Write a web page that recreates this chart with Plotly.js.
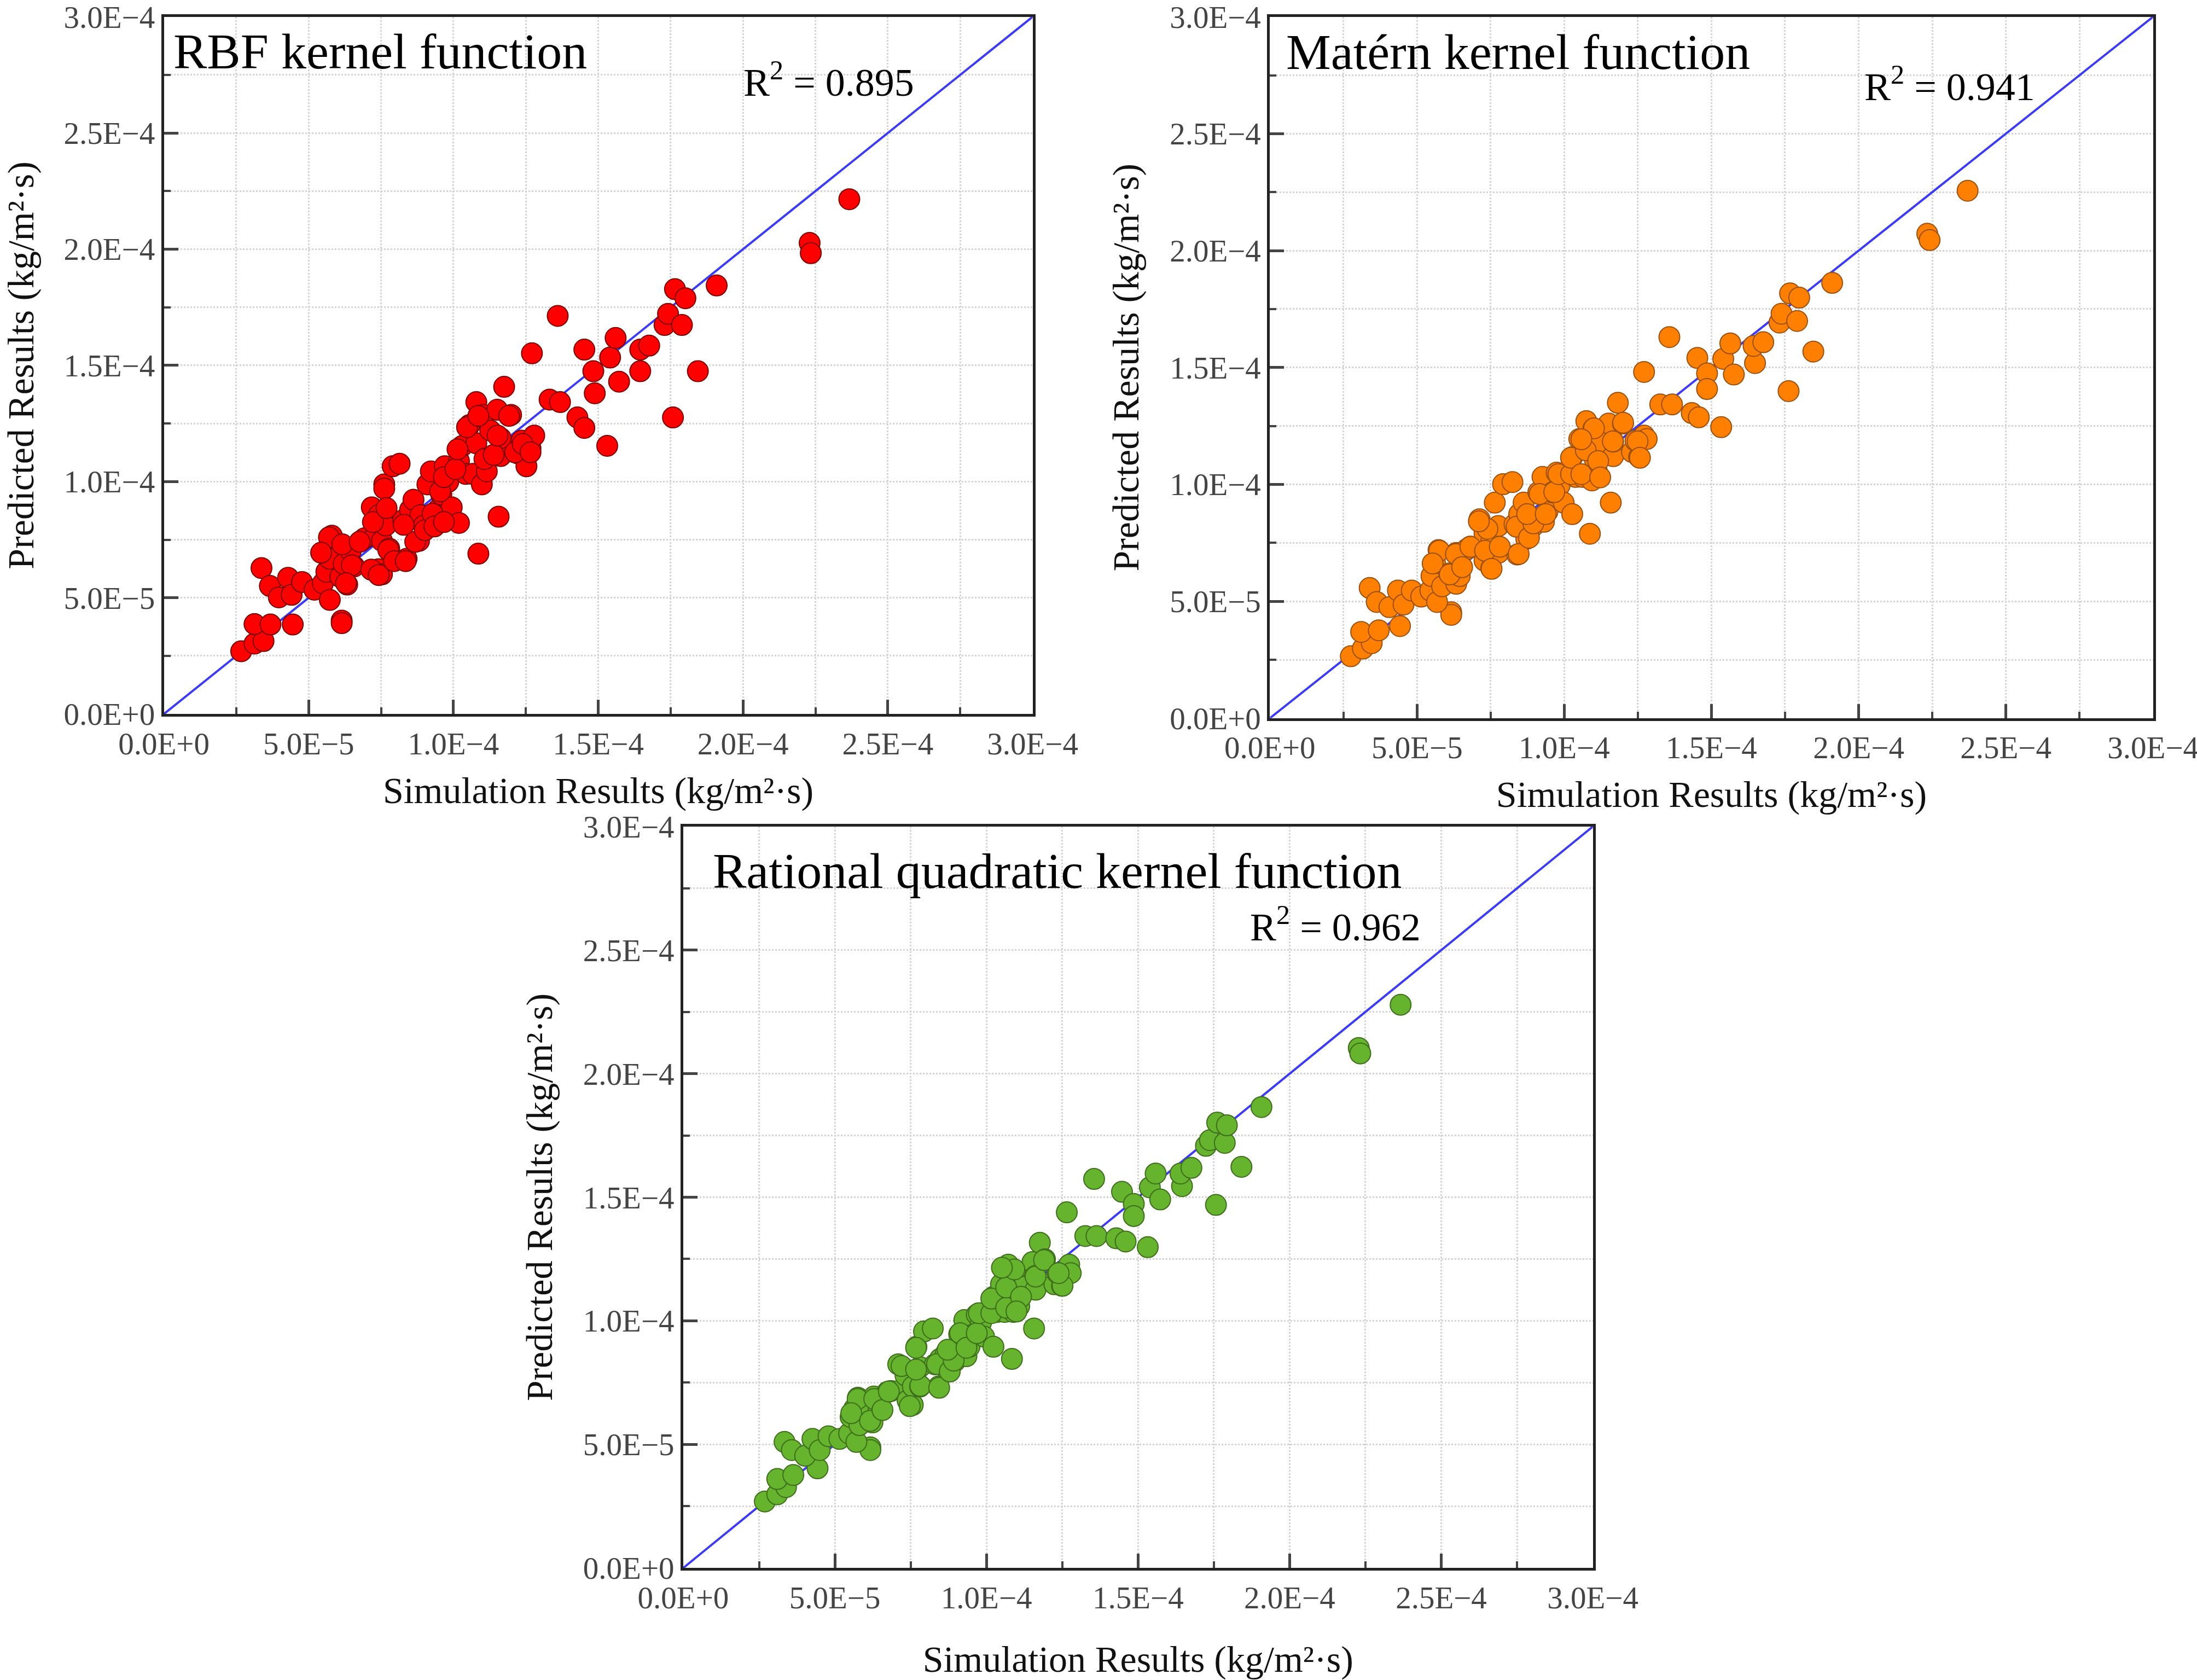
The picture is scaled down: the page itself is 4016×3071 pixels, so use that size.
<!DOCTYPE html>
<html>
<head>
<meta charset="utf-8">
<script src="https://cdn.plot.ly/plotly-3.0.1.min.js"></script>
<style>
  html, body { margin: 0; padding: 0; background: #fff; }
  #chart { width: 4016px; height: 3071px; }
</style>
</head>
<body>
<div id="chart"></div>
<script>
// values in units of 1e-4 kg/(m2 s)
var rbfSim = [0.267,0.313,0.344,0.313,0.368,0.445,0.614,0.614,0.337,0.366,0.397,0.429,0.441,0.477,0.520,0.549,0.573,0.561,0.573,0.580,
  0.609,0.621,0.633,0.645,0.657,0.681,0.693,0.718,0.730,0.742,0.742,0.753,0.753,0.761,0.766,0.778,0.790,0.814,0.826,0.838,
  0.850,0.862,0.881,0.886,0.898,0.910,0.922,0.934,0.946,0.958,0.970,0.982,0.994,1.019,1.019,1.031,1.043,1.055,1.067,1.079,
  1.079,1.086,1.098,1.103,1.110,1.115,1.127,1.151,1.156,1.163,1.163,1.175,1.199,1.223,1.235,1.252,1.266,1.271,1.279,1.332,
  1.360,1.368,1.428,1.452,1.452,1.483,1.488,1.531,1.541,1.560,1.572,1.645,1.645,1.676,1.729,1.741,1.758,1.765,1.789,1.801,
  1.844,1.909,2.230,2.234,2.367,
  0.570,0.543,0.616,0.676,0.649,0.629,0.716,0.742,0.775,0.795,0.835,0.828,0.868,0.901,0.928,0.934,0.954,0.967,1.007,1.014,
  1.047,1.086,1.107,1.139,1.152,1.192,1.213,1.239,1.266,0.967,0.761,0.722,0.769];
var rbfPred = [0.270,0.303,0.314,0.387,0.385,0.385,0.402,0.391,0.628,0.551,0.502,0.586,0.513,0.568,0.535,0.562,0.491,0.612,0.668,0.767,
  0.590,0.646,0.557,0.701,0.635,0.745,0.756,0.889,0.767,0.856,0.623,0.601,0.745,0.988,0.811,0.712,1.066,1.077,0.834,0.668,
  0.878,0.922,0.745,0.856,0.811,0.988,1.044,0.811,0.878,0.944,1.066,0.999,0.889,0.822,1.088,1.154,1.033,1.243,1.033,1.342,
  1.165,0.690,0.988,1.287,1.099,1.044,1.220,1.309,0.849,1.110,1.187,1.408,1.287,1.121,1.176,1.066,1.143,1.552,1.198,1.353,
  1.713,1.342,1.276,1.231,1.568,1.475,1.380,1.154,1.534,1.618,1.430,1.475,1.568,1.585,1.674,1.722,1.276,1.828,1.674,1.789,
  1.475,1.844,2.027,1.983,2.215,
  0.760,0.694,0.730,0.741,0.640,0.563,0.621,0.598,0.706,0.658,0.658,0.814,0.741,0.791,0.862,0.807,0.958,1.019,1.054,1.139,
  1.234,1.283,1.097,1.115,1.198,1.283,1.126,1.162,1.126,0.826,0.970,0.826,0.886];

var maternSim = [0.275,0.316,0.346,0.310,0.370,0.442,0.616,0.616,0.339,0.363,0.406,0.435,0.454,0.482,0.514,0.545,0.568,0.549,0.561,0.573,
  0.585,0.609,0.633,0.633,0.645,0.669,0.681,0.712,0.717,0.729,0.729,0.752,0.752,0.764,0.776,0.776,0.792,0.824,0.831,0.840,
  0.847,0.862,0.871,0.883,0.895,0.912,0.926,0.931,0.943,0.960,0.974,0.984,0.998,1.027,1.015,1.027,1.039,1.051,1.063,1.075,
  1.075,1.087,1.094,1.099,1.104,1.111,1.123,1.151,1.158,1.166,1.166,1.182,1.199,1.230,1.242,1.254,1.271,1.271,1.280,1.326,
  1.357,1.366,1.433,1.457,1.452,1.485,1.485,1.533,1.540,1.564,1.576,1.648,1.643,1.676,1.731,1.738,1.762,1.767,1.791,1.798,
  1.846,1.910,2.233,2.241,2.370,
  0.575,0.553,0.611,0.632,0.653,0.681,0.731,0.753,0.739,0.781,0.845,0.838,0.880,0.895,0.874,0.916,0.937,0.966,0.980,1.023,
  1.023,1.058,1.073,1.115,1.101,1.165,1.200,1.249,1.257,1.058,1.122,0.710];
var maternPred = [0.265,0.298,0.321,0.369,0.376,0.394,0.453,0.442,0.557,0.497,0.475,0.546,0.486,0.546,0.520,0.546,0.497,0.608,0.663,0.719,
  0.564,0.619,0.575,0.707,0.608,0.723,0.734,0.851,0.734,0.789,0.674,0.641,0.756,0.922,0.822,0.707,1.001,1.010,0.829,0.700,
  0.873,0.922,0.767,0.851,0.822,0.966,1.032,0.840,0.884,0.966,1.050,0.995,0.922,0.873,1.061,1.117,1.032,1.194,1.032,1.271,
  1.161,0.789,1.017,1.238,1.105,1.055,1.183,1.260,0.922,1.121,1.183,1.349,1.260,1.139,1.187,1.117,1.481,1.209,1.194,1.342,
  1.630,1.342,1.305,1.287,1.541,1.475,1.408,1.245,1.537,1.603,1.470,1.519,1.592,1.608,1.692,1.730,1.399,1.817,1.699,1.799,
  1.568,1.862,2.072,2.045,2.256,
  0.716,0.662,0.615,0.702,0.646,0.733,0.716,0.639,0.810,0.733,0.702,0.819,0.772,0.833,0.873,0.959,0.873,0.967,1.044,1.044,
  1.114,1.044,1.146,1.100,1.240,1.184,1.264,1.184,1.114,1.193,1.030,0.842];

var rqSim = [0.269,0.310,0.339,0.310,0.363,0.443,0.617,0.617,0.334,0.358,0.402,0.426,0.450,0.479,0.515,0.547,0.571,0.552,0.564,0.576,
  0.581,0.612,0.624,0.629,0.644,0.673,0.685,0.709,0.721,0.733,0.740,0.757,0.757,0.769,0.781,0.781,0.794,0.823,0.830,0.842,
  0.847,0.866,0.871,0.886,0.895,0.910,0.927,0.934,0.944,0.958,0.968,0.982,0.992,1.023,1.011,1.023,1.036,1.048,1.060,1.072,
  1.072,1.084,1.089,1.096,1.103,1.108,1.120,1.152,1.157,1.162,1.162,1.176,1.193,1.224,1.234,1.249,1.265,1.273,1.278,1.326,
  1.355,1.363,1.428,1.459,1.447,1.486,1.486,1.532,1.539,1.558,1.573,1.645,1.640,1.676,1.724,1.737,1.757,1.761,1.786,1.793,
  1.841,1.907,2.228,2.233,2.366,
  0.575,0.554,0.616,0.630,0.657,0.678,0.747,0.782,0.720,0.768,0.844,0.837,0.879,0.892,0.872,0.913,0.934,0.968,0.975,1.016,
  1.016,1.065,1.065,1.114,1.092,1.162,1.190,1.251,1.238,1.051,1.099,0.768];
var rqPred = [0.269,0.298,0.327,0.360,0.376,0.403,0.488,0.477,0.510,0.477,0.454,0.522,0.477,0.533,0.522,0.544,0.510,0.611,0.645,0.689,
  0.578,0.622,0.589,0.694,0.645,0.712,0.716,0.824,0.723,0.779,0.678,0.660,0.734,0.895,0.813,0.734,0.957,0.969,0.824,0.734,
  0.846,0.868,0.801,0.846,0.835,0.946,1.003,0.857,0.895,0.946,1.025,0.992,0.936,0.895,1.047,1.097,1.036,1.148,1.036,1.227,
  1.137,0.846,1.036,1.204,1.097,1.059,1.137,1.238,0.969,1.126,1.182,1.316,1.249,1.148,1.193,1.142,1.439,1.227,1.193,1.343,
  1.574,1.343,1.334,1.321,1.522,1.473,1.424,1.298,1.540,1.596,1.491,1.545,1.596,1.619,1.708,1.731,1.469,1.802,1.720,1.791,
  1.623,1.865,2.104,2.082,2.279,
  0.684,0.626,0.595,0.684,0.639,0.714,0.655,0.737,0.817,0.803,0.729,0.825,0.795,0.839,0.883,0.950,0.891,0.950,1.031,1.031,
  1.090,1.053,1.135,1.097,1.208,1.179,1.246,1.142,1.193,1.215,1.038,0.891];

var axisRange = [0, 3e-4];
var tickVals = [0, 5e-5, 1e-4, 1.5e-4, 2e-4, 2.5e-4, 3e-4];
var tickText = ['0.0E+0', '5.0E\u22125', '1.0E\u22124', '1.5E\u22124', '2.0E\u22124', '2.5E\u22124', '3.0E\u22124'];
var panelTitles = ['RBF kernel function', 'Mat\u00e9rn kernel function', 'Rational quadratic kernel function'];
var r2Labels = ['R<sup>2</sup> = 0.895', 'R<sup>2</sup> = 0.941', 'R<sup>2</sup> = 0.962'];

function scale(arr) { return arr.map(function (v) { return v * 1e-4; }); }

var serif = 'Liberation Serif';

function diag(n) {
  return {
    x: axisRange, y: axisRange, xaxis: 'x' + n, yaxis: 'y' + n,
    mode: 'lines', line: { color: '#3a3aff', width: 4 },
    hoverinfo: 'skip', showlegend: false
  };
}
function pts(n, sim, pred, fill, edge) {
  return {
    x: scale(sim), y: scale(pred), xaxis: 'x' + n, yaxis: 'y' + n,
    mode: 'markers', type: 'scatter', showlegend: false,
    marker: { size: 38, color: fill, line: { color: edge, width: 2 } }
  };
}

var data = [
  diag(''), pts('', rbfSim, rbfPred, '#ff0000', '#7a0000'),
  diag(2), pts(2, maternSim, maternPred, '#ff8000', '#9a5010'),
  diag(3), pts(3, rqSim, rqPred, '#66b32e', '#3d6e1b')
];

function xax(domain, anchor, standoff) {
  return {
    domain: domain, anchor: anchor, range: axisRange, mirror: true,
    showline: true, linecolor: '#222', linewidth: 5, zeroline: false,
    ticks: 'inside', ticklen: 26, tickwidth: 5, tickcolor: '#444',
    tickmode: 'array', tickvals: tickVals, ticktext: tickText,
    ticklabeloverflow: 'allow',
    tickfont: { family: serif, size: 57, color: '#444' },
    showgrid: true, gridcolor: '#d4d4d4', gridwidth: 3, griddash: 'dot',
    minor: { tickmode: 'linear', tick0: 0, dtick: 2.5e-5, ticks: 'inside', ticklen: 12, tickwidth: 4,
      tickcolor: '#444', showgrid: true, gridcolor: '#d4d4d4', gridwidth: 3, griddash: 'dot' },
    title: { text: 'Simulation Results (kg/m\u00b2\u00b7s)', standoff: standoff,
      font: { family: serif, size: 68, color: '#111' } }
  };
}
function yax(domain, anchor) {
  var a = xax(domain, anchor, 36);
  a.title = { text: 'Predicted Results (kg/m\u00b2\u00b7s)', standoff: 36,
    font: { family: serif, size: 68, color: '#111' } };
  return a;
}

var annotations = [];
var titlePos = [[0.010, 0.950], [0.017, 0.950], [0.031, 0.940]];
var r2Pos = [[0.666, 0.910], [0.672, 0.904], [0.622, 0.868]];
['', '2', '3'].forEach(function (n, i) {
  annotations.push({
    xref: 'x' + n + ' domain', yref: 'y' + n + ' domain', x: titlePos[i][0], y: titlePos[i][1],
    xanchor: 'left', yanchor: 'middle', showarrow: false, text: panelTitles[i],
    font: { family: serif, size: 92, color: '#000' }
  });
  annotations.push({
    xref: 'x' + n + ' domain', yref: 'y' + n + ' domain', x: r2Pos[i][0], y: r2Pos[i][1],
    xanchor: 'left', yanchor: 'middle', showarrow: false, text: r2Labels[i],
    font: { family: serif, size: 72, color: '#000' }
  });
});

var layout = {
  width: 4016, height: 3071,
  margin: { l: 0, r: 0, t: 0, b: 0 },
  paper_bgcolor: '#fff', plot_bgcolor: '#fff',
  font: { family: serif },
  showlegend: false,
  xaxis: xax([0.0746, 0.470], 'y', 32),
  yaxis: yax([0.575, 0.990], 'x'),
  xaxis2: xax([0.578, 0.980], 'y2', 32),
  yaxis2: yax([0.5725, 0.990], 'x2'),
  xaxis3: xax([0.311, 0.725], 'y3', 66),
  yaxis3: yax([0.0667, 0.508], 'x3'),
  annotations: annotations
};

Plotly.newPlot('chart', data, layout, { staticPlot: true });
</script>
</body>
</html>
